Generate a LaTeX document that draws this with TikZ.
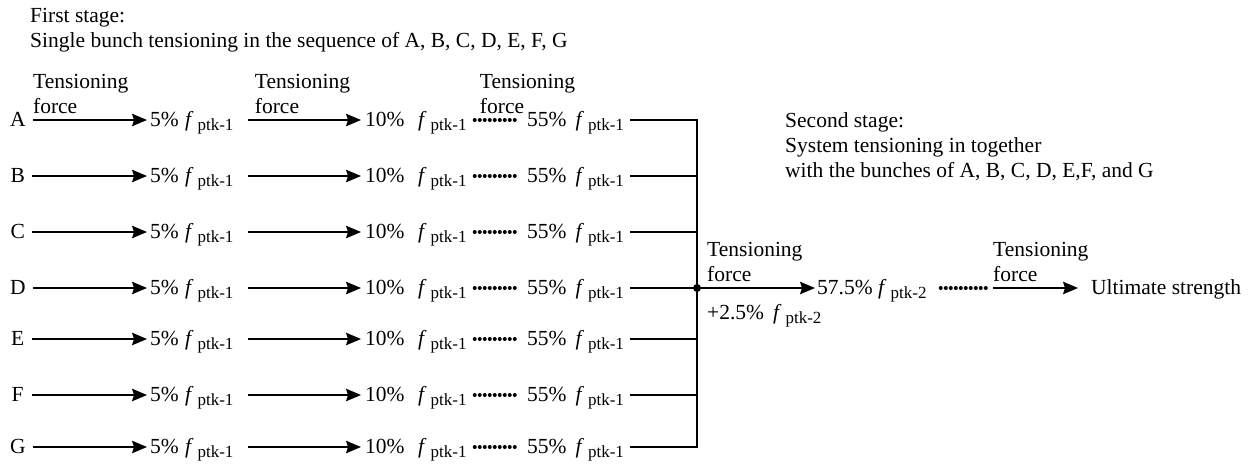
\documentclass[tikz,border=0pt]{standalone}
\usepackage{fontspec}
\setmainfont{Liberation Serif}
\usetikzlibrary{arrows.meta}
\newcommand{\fptk}[1]{\textit{f}\hspace{4pt}\raisebox{-4pt}{\fontsize{17}{17}\selectfont ptk-#1}}
\newcommand{\twoline}[2]{\begin{tabular}[t]{@{}l@{}}#1\\#2\end{tabular}}
\begin{document}
\begin{tikzpicture}[x=1pt,y=-1pt,
  font=\fontsize{21.5}{25}\selectfont,
  txt/.style={inner sep=0pt, text height=14pt, text depth=2pt, anchor=west},
  lbl/.style={inner sep=0pt, anchor=base west},
  ln/.style={line width=1.2pt},
  arr/.style={line width=1.2pt, -{Stealth[length=15pt,width=12.5pt,inset=2pt]}},
  dotline/.style={line width=4pt, line cap=round, dash pattern=on 0pt off 5pt},
]
\useasboundingbox (0,0) rectangle (1257,466);

% header texts
\node[lbl] (h1) at (30,22) {\twoline{First stage:}{Single bunch tensioning in the sequence of A, B, C, D, E, F, G}};
\node[lbl] (h2) at (785,127) {\begin{tabular}[t]{@{}l@{}}Second stage:\\System tensioning in together\\with the bunches of A, B, C, D, E,F, and G\end{tabular}};

% rows
\foreach \L/\r in {A/120,B/176,C/232,D/288,E/339,F/395,G/447}{
  \node[txt, minimum width=15pt] (\L) at (10,\r) {\L};
  \node[txt] (\L5) at (150,\r) {5\%\hspace{6.3pt}\fptk{1}};
  \node[txt] (\L10) at (365,\r) {10\%\hspace{13.6pt}\fptk{1}};
  \node[txt] (\L55) at (527,\r) {55\%\hspace{9pt}\fptk{1}};
  \coordinate (\L-j) at (697,\r);
  \draw[arr, shorten <=7pt, shorten >=3pt] (\L) -- (\L5);
  \draw[arr, shorten <=14pt, shorten >=4pt] (\L5) -- (\L10);
  \draw[dotline, shorten <=8pt, shorten >=8pt] (\L10) -- (\L55);
  \draw[ln, shorten <=6pt] (\L55) -- (\L-j);
}
\draw[ln, line cap=rect] (A-j) -- (G-j);
\fill (D-j) circle (4pt);

% labels of row A
\node[lbl] (t1) at ([shift={(7pt,32pt)}]A.east) {\twoline{Tensioning}{force}};
\node[lbl] (t2) at ([shift={(21pt,32pt)}]A5.east) {\twoline{Tensioning}{force}};
\node[lbl] (t3) at ([shift={(13pt,32pt)}]A10.east) {\twoline{Tensioning}{force}};

% second stage
\node[txt] (S1) at (817,288) {57.5\%\hspace{5.5pt}\fptk{2}};
\coordinate (m) at (990,288);
\node[txt] (U) at (1091,288) {Ultimate strength};
\draw[arr, shorten >=2pt] (D-j) -- (S1);
\draw[dotline, shorten <=14pt, shorten >=3pt] (S1) -- (m);
\draw[arr, shorten <=3pt, shorten >=13pt] (m) -- (U);
\node[lbl] (t4) at ([shift={(10pt,32pt)}]D-j) {\twoline{Tensioning}{force}};
\node[lbl] (t5) at ([shift={(3pt,32pt)}]m) {\twoline{Tensioning}{force}};
\node[lbl] (p2) at ([shift={(10pt,-31pt)}]D-j) {+2.5\%\hspace{9pt}\fptk{2}};
\end{tikzpicture}
\end{document}
